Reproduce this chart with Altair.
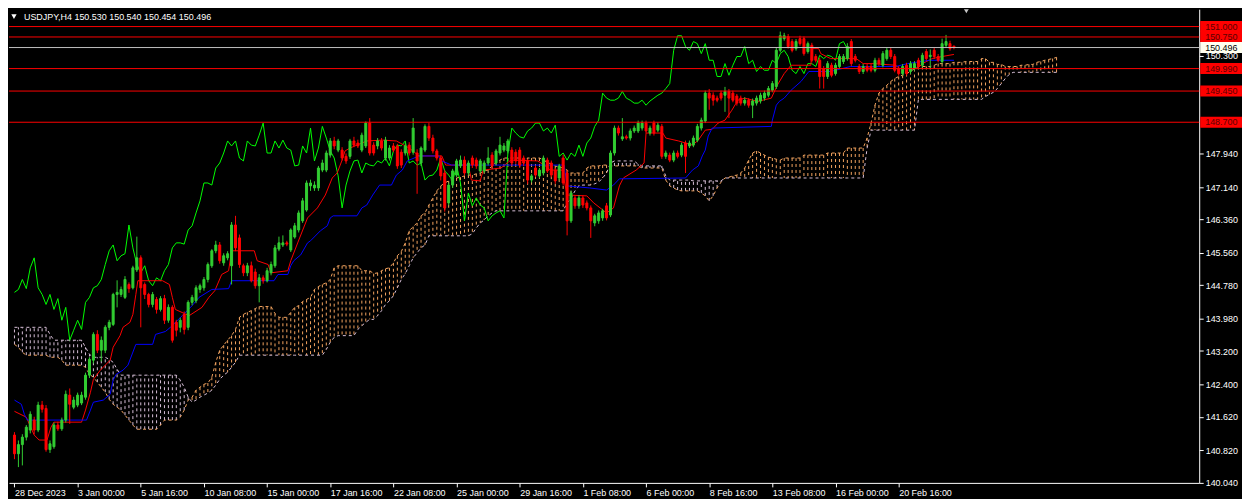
import json
import altair as alt
import numpy as np
import pandas as pd

# ---------------- data ----------------
OPEN = [
141.18, 140.73, 140.95, 141.13, 141.30, 141.54, 141.30, 141.90, 141.82, 140.83,
140.90, 141.42, 141.33, 141.54, 142.14, 141.85, 141.90, 141.95, 142.09, 142.62,
142.98, 143.60, 143.22, 143.22, 143.77, 143.84, 144.56, 144.56, 144.49, 144.80,
144.72, 145.15, 145.44, 144.80, 144.56, 144.32, 144.44, 144.20, 144.46, 143.94,
144.25, 143.89, 143.77, 144.08, 143.77, 144.37, 144.41, 144.68, 144.72, 144.92,
145.25, 145.61, 145.75, 145.32, 145.44, 145.25, 146.23, 145.92, 145.25, 145.08,
145.25, 145.10, 144.77, 144.96, 144.89, 145.08, 145.25, 145.65, 145.75, 145.80,
145.63, 145.94, 146.11, 146.33, 146.59, 147.17, 147.12, 147.12, 147.55, 147.55,
147.91, 148.25, 148.03, 148.03, 147.88, 147.88, 148.25, 148.20, 148.03, 148.13,
148.68, 148.15, 148.13, 148.25, 147.84, 147.84, 148.13, 148.13, 147.98, 147.96,
148.15, 147.98, 147.96, 147.72, 148.03, 148.60, 148.32, 148.01, 147.84, 147.48,
146.76, 147.19, 147.43, 147.65, 147.79, 147.48, 147.84, 147.79, 147.53, 147.53,
147.72, 147.91, 147.72, 147.96, 148.03, 148.01, 148.03, 147.98, 148.03, 147.84,
147.77, 147.31, 147.60, 147.41, 147.48, 147.79, 147.72, 147.55, 147.36, 147.84,
147.48, 146.33, 146.88, 146.69, 146.88, 146.76, 146.64, 146.28, 146.33, 146.40,
146.69, 146.47, 147.96, 148.56, 148.30, 148.35, 148.32, 148.49, 148.49, 148.56,
148.68, 148.44, 148.68, 148.51, 148.60, 147.88, 147.91, 147.79, 147.96, 147.91,
148.20, 148.13, 148.15, 148.27, 148.56, 148.73, 149.40, 149.35, 149.28, 149.40,
149.35, 149.44, 149.40, 149.33, 149.28, 149.16, 149.23, 149.11, 149.16, 149.21,
149.28, 149.35, 149.47, 149.56, 150.43, 150.71, 150.76, 150.64, 150.47, 150.71,
150.71, 150.40, 150.55, 150.28, 150.19, 149.99, 149.80, 150.07, 149.87, 150.04,
150.16, 150.23, 150.64, 150.28, 150.04, 149.92, 150.04, 150.04, 149.95, 150.19,
150.07, 150.23, 150.43, 150.28, 149.99, 149.87, 150.07, 149.92, 149.99, 150.19,
150.07, 150.40, 150.28, 150.43, 150.28, 150.16, 150.55, 150.59, 150.530,
]
HIGH = [
141.25, 141.05, 141.20, 141.42, 141.75, 141.62, 141.98, 142.00, 141.90, 141.05,
141.48, 141.50, 141.60, 142.25, 142.30, 142.10, 142.20, 142.22, 142.68, 143.05,
143.65, 143.70, 143.55, 143.82, 143.95, 144.60, 144.90, 144.75, 145.00, 144.85,
145.25, 145.95, 145.50, 144.85, 144.60, 144.62, 144.50, 144.52, 144.55, 144.32,
144.30, 143.95, 144.00, 144.15, 144.42, 144.55, 144.78, 144.82, 144.98, 145.33,
145.65, 145.85, 145.82, 145.55, 145.60, 146.30, 146.45, 146.00, 145.30, 145.32,
145.35, 145.18, 145.05, 145.02, 145.20, 145.35, 145.75, 145.95, 145.98, 145.85,
146.15, 146.28, 146.58, 146.88, 147.30, 147.32, 147.28, 147.65, 147.80, 148.02,
148.32, 148.35, 148.30, 148.10, 147.95, 148.30, 148.35, 148.28, 148.45, 148.72,
148.80, 148.22, 148.32, 148.32, 148.35, 148.15, 148.20, 148.18, 148.05, 148.20,
148.22, 148.80, 148.05, 148.12, 148.65, 148.68, 148.40, 148.06, 147.90, 147.55,
147.25, 147.58, 147.82, 147.90, 147.88, 147.78, 147.90, 147.85, 147.82, 147.78,
148.10, 147.98, 148.06, 148.35, 148.20, 148.30, 148.10, 148.05, 148.10, 147.90,
147.82, 147.46, 147.66, 147.60, 147.90, 147.85, 147.78, 147.60, 147.70, 147.92,
147.55, 147.06, 146.95, 146.95, 146.94, 146.82, 146.70, 146.50, 146.58, 146.62,
146.76, 148.02, 148.62, 148.62, 148.80, 148.40, 148.55, 148.62, 148.74, 148.74,
148.74, 148.62, 148.74, 148.70, 148.66, 148.02, 147.97, 148.02, 148.02, 148.21,
148.26, 148.26, 148.38, 148.66, 148.81, 149.46, 149.50, 149.42, 149.34, 149.46,
149.55, 149.50, 149.46, 149.38, 149.34, 149.30, 149.28, 149.27, 149.34, 149.41,
149.46, 149.57, 149.69, 150.50, 150.88, 150.85, 150.82, 150.70, 150.70, 150.78,
150.76, 150.64, 150.61, 150.34, 150.25, 150.05, 150.17, 150.13, 150.13, 150.34,
150.34, 150.60, 150.70, 150.34, 150.10, 150.10, 150.10, 150.10, 150.25, 150.25,
150.41, 150.49, 150.49, 150.34, 150.05, 150.10, 150.13, 150.17, 150.17, 150.25,
150.37, 150.46, 150.45, 150.49, 150.34, 150.71, 150.80, 150.66, 150.540,
]
LOW = [
140.60, 140.41, 140.45, 141.05, 141.22, 141.20, 141.25, 141.72, 140.78, 140.75,
140.85, 141.28, 141.28, 141.48, 141.45, 141.80, 141.85, 141.90, 142.03, 142.55,
142.90, 143.15, 142.95, 143.15, 143.70, 143.80, 144.25, 144.50, 144.45, 144.60,
144.68, 145.10, 143.77, 144.45, 144.25, 144.25, 144.10, 144.15, 143.85, 143.88,
143.40, 143.55, 143.65, 143.60, 143.70, 144.30, 144.35, 144.60, 144.65, 144.85,
145.20, 145.55, 145.30, 145.25, 145.38, 144.80, 145.60, 145.20, 145.00, 145.00,
144.85, 144.70, 144.37, 144.82, 144.85, 145.02, 145.20, 145.60, 145.70, 145.72,
145.58, 145.90, 146.05, 146.28, 146.55, 147.05, 147.05, 147.05, 147.50, 147.50,
147.85, 148.05, 147.98, 147.78, 147.70, 147.82, 148.10, 148.08, 147.98, 148.08,
147.90, 147.90, 148.05, 148.02, 147.78, 147.78, 147.98, 147.58, 147.60, 147.90,
147.90, 147.92, 146.98, 147.65, 147.98, 148.25, 147.95, 147.78, 147.30, 146.55,
146.70, 147.12, 147.38, 147.60, 147.42, 147.42, 147.60, 147.58, 147.48, 147.48,
147.66, 147.60, 147.66, 147.90, 147.98, 147.95, 147.66, 147.70, 147.60, 147.65,
147.22, 147.25, 147.38, 147.36, 147.42, 147.48, 147.38, 147.22, 147.30, 147.18,
145.98, 146.28, 146.62, 146.62, 146.64, 146.58, 145.92, 146.20, 146.26, 146.33,
146.34, 146.42, 147.90, 148.38, 148.25, 148.28, 148.26, 148.44, 148.44, 148.50,
148.44, 148.38, 148.38, 148.46, 147.82, 147.82, 147.74, 147.74, 147.83, 147.86,
147.48, 148.08, 148.10, 148.22, 148.50, 148.68, 149.00, 149.10, 149.18, 149.22,
148.95, 148.80, 149.18, 149.10, 149.10, 149.10, 149.05, 148.80, 149.10, 149.15,
149.22, 149.30, 149.42, 149.50, 150.38, 150.66, 150.47, 150.38, 150.42, 150.54,
150.30, 150.35, 150.14, 150.14, 149.51, 149.51, 149.74, 149.78, 149.82, 149.98,
150.10, 150.18, 150.05, 150.14, 149.86, 149.86, 149.90, 149.90, 149.90, 150.05,
150.02, 150.18, 150.22, 149.90, 149.82, 149.82, 149.82, 149.86, 149.94, 149.98,
150.02, 150.18, 149.98, 150.22, 150.14, 150.11, 150.50, 150.42, 150.454,
]
CLOSE = [
140.73, 140.95, 141.13, 141.37, 141.68, 141.30, 141.90, 141.80, 140.83, 140.97,
141.42, 141.33, 141.54, 142.16, 141.92, 142.02, 142.14, 142.14, 142.62, 143.00,
143.60, 143.22, 143.46, 143.77, 143.89, 144.56, 144.61, 144.68, 144.92, 144.70,
145.20, 145.44, 144.72, 144.56, 144.32, 144.56, 144.20, 144.46, 143.94, 144.25,
143.46, 143.70, 143.94, 143.72, 144.37, 144.49, 144.72, 144.77, 144.92, 145.28,
145.61, 145.75, 145.37, 145.49, 145.54, 146.23, 145.68, 145.28, 145.08, 145.25,
144.89, 144.77, 144.96, 144.89, 145.13, 145.28, 145.68, 145.80, 145.80, 145.77,
146.11, 146.21, 146.52, 146.81, 147.24, 147.24, 147.19, 147.60, 147.72, 147.96,
148.25, 148.13, 148.25, 147.84, 147.77, 148.25, 148.15, 148.13, 148.39, 148.68,
147.96, 147.96, 148.25, 148.08, 148.27, 148.08, 148.03, 147.65, 147.67, 148.13,
147.96, 148.56, 147.77, 148.08, 148.60, 148.32, 148.01, 147.84, 147.41, 146.64,
147.19, 147.53, 147.77, 147.79, 147.48, 147.72, 147.67, 147.65, 147.77, 147.72,
147.84, 147.65, 148.01, 148.15, 148.13, 148.25, 147.72, 147.77, 147.67, 147.72,
147.31, 147.41, 147.43, 147.55, 147.84, 147.53, 147.43, 147.29, 147.65, 147.24,
146.33, 147.00, 146.69, 146.88, 146.71, 146.64, 146.33, 146.45, 146.52, 146.57,
146.40, 147.96, 148.56, 148.44, 148.35, 148.32, 148.49, 148.56, 148.68, 148.68,
148.49, 148.56, 148.44, 148.63, 147.88, 147.96, 147.79, 147.96, 147.88, 148.15,
147.88, 148.20, 148.32, 148.60, 148.75, 149.40, 149.28, 149.23, 149.23, 149.28,
149.44, 149.28, 149.23, 149.16, 149.16, 149.23, 149.11, 149.21, 149.28, 149.35,
149.40, 149.51, 149.63, 150.43, 150.78, 150.78, 150.52, 150.43, 150.64, 150.59,
150.35, 150.59, 150.19, 150.19, 149.80, 149.80, 150.11, 149.83, 150.07, 150.28,
150.28, 150.52, 150.11, 150.19, 149.92, 150.04, 149.95, 149.95, 150.19, 150.11,
150.35, 150.43, 150.28, 149.95, 149.87, 150.04, 149.87, 150.11, 150.11, 150.04,
150.31, 150.23, 150.31, 150.28, 150.19, 150.59, 150.64, 150.47, 150.496,
]

# Ichimoku cloud, per bar (value, number of consecutive bars)
SPAN_A_RUNS = [
(143.36,1),(143.29,1),(143.17,1),(143.10,6),(143.05,3),(142.98,1),(142.86,5),(142.81,1),
(142.64,1),(142.57,1),(142.45,1),(142.33,1),(142.21,1),(142.04,1),(141.92,1),(141.85,1),
(141.78,1),(141.66,1),(141.54,1),(141.42,1),(141.32,6),(141.42,1),(141.54,4),(141.61,1),
(141.78,1),(142.02,1),
(142.09,1),(142.26,1),(142.33,1),(142.40,1),(142.43,1),(142.57,1),(142.93,1),(143.22,1),
(143.34,1),(143.46,1),(143.57,1),(143.72,1),
(144.01,1),(144.08,1),(144.13,1),(144.17,1),(144.22,1),(144.27,4),(144.10,1),(144.01,3),
(144.13,1),(144.25,1),(144.29,1),(144.39,1),(144.44,1),(144.49,1),(144.68,1),(144.75,1),
(144.80,1),(144.84,1),(144.92,1),(145.20,1),(145.25,6),(145.13,3),
(145.06,1),(145.08,1),(145.13,1),(145.18,1),(145.20,1),(145.32,1),(145.49,1),(145.59,1),
(145.80,1),(146.09,1),(146.19,1),(146.28,1),(146.45,1),(146.52,1),(146.71,1),(146.88,1),
(147.05,1),(147.17,1),(147.24,1),(147.29,1),(147.34,1),(147.36,1),(147.38,1),(147.41,1),
(147.43,2),(147.46,1),(147.48,1),(147.53,1),(147.55,1),(147.65,1),(147.74,1),(147.79,1),
(147.84,5),(147.77,1),(147.84,4),
(147.79,1),(147.74,1),(147.69,1),(147.65,1),(147.62,1),(147.60,1),(147.55,1),
(147.48,4),(147.60,1),(147.65,3),(147.67,2),(147.65,8),(147.60,6),
(147.31,1),(147.17,1),(147.12,1),(147.07,1),(147.05,5),
(147.00,1),(146.93,1),(146.81,1),(146.93,1),(147.12,1),(147.26,1),(147.36,1),(147.38,1),
(147.41,1),(147.43,1),(147.48,1),(147.60,1),(147.79,1),(147.96,1),(148.01,1),(147.96,1),
(147.91,1),(147.86,1),(147.84,1),(147.81,1),(147.79,1),
(147.84,5),(147.91,6),(147.96,5),(148.08,5),
(148.32,1),(148.68,1),(149.11,1),(149.40,1),(149.51,1),(149.59,1),(149.68,1),(149.75,1),
(149.80,1),(149.83,1),(149.87,1),(149.92,1),(149.99,1),
(150.04,4),(150.07,1),(150.11,4),(150.14,3),(150.16,4),(150.23,2),(150.14,2),(150.09,2),
(150.04,4),(150.07,2),(150.09,2),
(150.14,1),(150.16,1),(150.19,1),(150.21,1),(150.23,1),(150.26,1),
]
SPAN_B_RUNS = [
(143.77,9),(143.60,1),(143.46,8),(143.29,1),(143.12,1),(143.05,4),(143.00,1),(142.93,1),
(142.76,1),(142.62,15),(142.50,1),(142.33,1),(142.09,1),
(141.97,1),(142.02,1),(142.09,1),(142.14,1),(142.19,1),(142.26,1),(142.38,1),(142.52,1),
(142.62,1),(142.69,1),(142.81,1),(142.93,1),
(143.10,22),(143.24,1),(143.41,1),(143.53,1),(143.57,5),(143.72,1),(143.81,1),(143.89,1),
(143.96,2),
(144.05,1),(144.17,1),(144.32,1),(144.41,1),(144.53,1),(144.72,1),(144.92,1),(145.06,1),
(145.25,1),(145.44,1),(145.56,1),(145.68,1),(145.75,1),
(145.97,11),(146.02,1),(146.16,1),(146.28,1),(146.35,1),(146.45,1),(146.52,1),
(146.57,18),(146.76,1),(146.88,1),(147.05,1),(147.17,1),(147.19,3),
(147.22,1),(147.26,1),(147.36,1),(147.48,1),(147.72,1),
(147.77,6),(147.69,1),(147.65,6),(147.41,1),(147.31,6),(147.29,8),
(147.36,36),(148.08,1),(148.51,12),(149.25,17),
(149.32,1),(149.37,1),(149.42,1),(149.51,1),(149.63,1),(149.75,1),(149.85,1),
(149.90,12),
]

TENKAN_BAR = [0, 3, 5, 6.25, 8.25, 9.25, 10, 17, 18, 19.25, 20, 21.75, 24.25, 25, 26.75, 27.5,
29.25, 30, 30.75, 31.25, 37.5, 39.25, 40, 40.75, 44.25, 47.5, 49.25, 50.75, 52.5, 54.25, 55,
60.75, 61.5, 64.25, 65, 69.25, 70, 71.75, 74.25, 76.75, 78.75, 80.5, 81.75, 83, 83.75, 85,
89.25, 93.25, 96.75, 100, 102.5, 108.25, 109.25, 115, 115.75, 118, 118.75, 123.25, 125.75,
132.5, 134.25, 135.75, 138.75, 140, 145, 146.75, 150, 151.75, 153.25, 154.25, 157.5, 159.5,
160, 164.25, 165, 168.25, 171.75, 173.25, 175, 176.75, 178.25, 180, 181.75, 183.25, 185,
188.25, 191.75, 193.25, 195, 196.75, 201.75, 202, 203.75, 204.25, 206.75, 213.25, 215, 217.5,
223.25, 224.25, 228.75, 230, 232.5, 235, 238]
TENKAN = [141.75, 141.61, 141.18, 141.06, 141.06, 141.37, 141.49, 141.49, 141.78, 142.21,
142.52, 142.74, 142.98, 143.29, 143.57, 143.77, 143.89, 144.08, 144.56, 144.89, 144.89,
144.80, 144.49, 144.20, 144.05, 144.25, 144.49, 144.65, 145.04, 145.13, 145.61, 145.61,
145.37, 145.28, 145.08, 145.13, 145.37, 145.80, 146.40, 146.64, 146.95, 147.36, 147.48,
147.79, 148.01, 148.08, 148.25, 148.27, 148.25, 148.08, 147.89, 147.89, 147.67, 147.67,
147.31, 147.29, 147.55, 147.60, 147.79, 147.77, 147.67, 147.55, 147.55, 146.95, 146.93,
146.76, 146.52, 146.64, 147.17, 147.36, 147.55, 147.72, 148.44, 148.44, 148.32, 148.25,
148.15, 148.27, 148.51, 148.53, 148.68, 148.75, 148.99, 149.23, 149.28, 149.20, 149.28,
149.59, 149.87, 150.07, 150.07, 150.47, 150.47, 150.35, 150.23, 150.23, 150.11, 150.11,
150.07, 149.99, 149.99, 150.11, 150.23, 150.28, 150.33]

KIJUN_BAR = [0, 1.75, 2.5, 3.25, 18.25, 19.25, 20, 22.5, 24.25, 25, 25.75, 27.5, 28.75, 30.75,
35, 35.75, 38.25, 39.5, 42.5, 45, 46.75, 50, 54.25, 55, 65.75, 66.75, 69.25, 70, 70.75, 72.5,
74.25, 75, 77.5, 79.25, 80, 80.75, 86.75, 88, 89.25, 90.75, 92.5, 95.5, 96.75, 98.25, 99.5,
102.5, 107.5, 108.25, 110.75, 139.25, 140, 145.75, 150, 151.75, 153.25, 170, 171.75, 173.25,
174.25, 175, 175.75, 176.75, 191.75, 192, 193, 193.75, 195, 196.75, 199.25, 201.25, 206.75,
211.75, 223.25, 226.25, 231.75, 238]
KIJUN = [142.02, 141.92, 141.68, 141.54, 141.54, 141.78, 141.97, 142.02, 142.16, 142.50,
142.64, 142.74, 142.86, 143.36, 143.36, 143.60, 143.67, 143.77, 144.05, 144.29, 144.49,
144.68, 144.70, 144.89, 144.89, 145.04, 145.04, 145.25, 145.37, 145.51, 145.80, 145.85,
146.09, 146.21, 146.40, 146.45, 146.45, 146.64, 146.71, 146.95, 147.19, 147.19, 147.43,
147.55, 147.77, 147.89, 147.89, 147.77, 147.67, 147.67, 147.17, 147.12, 147.07, 147.19,
147.34, 147.36, 147.55, 147.65, 147.89, 148.03, 148.37, 148.56, 148.60, 148.75, 149.11,
149.20, 149.28, 149.47, 149.68, 149.92, 149.92, 150.04, 150.04, 150.11, 150.19, 150.19]

CHIKOU_SHIFT = 26
LEVELS = [151.000, 150.750, 149.990, 149.450, 148.700]
BID = 150.496
Y_TICKS = [140.04, 140.82, 141.62, 142.40, 143.20, 143.98, 144.78, 145.56, 146.36,
           147.14, 147.94, 150.30]
X_TICK_BARS = [0, 16, 32, 48, 64, 80, 96, 112, 128, 144, 160, 176, 192, 208, 224]
X_TICK_LABELS = ["28 Dec 2023", "3 Jan 00:00", "5 Jan 16:00", "10 Jan 08:00", "15 Jan 00:00",
                 "17 Jan 16:00", "22 Jan 08:00", "25 Jan 00:00", "29 Jan 16:00", "1 Feb 08:00",
                 "6 Feb 00:00", "8 Feb 16:00", "13 Feb 08:00", "16 Feb 00:00", "20 Feb 16:00"]
TITLE = "USDJPY,H4  150.530 150.540 150.454 150.496"

# ---------------- tables ----------------
n = len(CLOSE)
bars = pd.DataFrame({"bar": np.arange(n), "open": OPEN, "high": HIGH, "low": LOW, "close": CLOSE})
bars["kind"] = np.where(bars["close"] >= bars["open"], "up", "down")

span_a = [v for v, k in SPAN_A_RUNS for _ in range(k)]
span_b = [v for v, k in SPAN_B_RUNS for _ in range(k)]
m = min(len(span_a), len(span_b))
cloud = pd.DataFrame({"bar": np.arange(m), "a": span_a[:m], "b": span_b[:m]})
cloud["kind"] = np.where(cloud["a"] >= cloud["b"], "bull", "bear")

chikou = pd.DataFrame({"bar": np.arange(n - CHIKOU_SHIFT), "price": CLOSE[CHIKOU_SHIFT:]})
tenkan = pd.DataFrame({"bar": TENKAN_BAR, "price": TENKAN})
kijun = pd.DataFrame({"bar": KIJUN_BAR, "price": KIJUN})

Y_LO, Y_HI = 140.03, 151.418
PLOT_H = 476
PX = PLOT_H / (Y_HI - Y_LO)  # pixels per yen (style)
HALF = 5.5 / PX
levels = pd.DataFrame({"price": LEVELS, "label": [f"{v:.3f}" for v in LEVELS]})
levels["lo"] = levels["price"] - HALF
levels["hi"] = levels["price"] + HALF
bid = pd.DataFrame({"price": [BID], "label": [f"{BID:.3f}"]})
bid["lo"] = bid["price"] - HALF
bid["hi"] = bid["price"] + HALF

# ---------------- scales & axes ----------------
FONT = "Liberation Sans"
xs = alt.Scale(domain=[-0.125, 298.875], nice=False, zero=False)
ys = alt.Scale(domain=[Y_LO, Y_HI], nice=False, zero=False)
xaxis = alt.Axis(values=X_TICK_BARS, labelExpr=json.dumps(X_TICK_LABELS) + "[round(datum.value / 16)]",
                 labelAlign="left", labelOffset=0, labelPadding=2, tickSize=4, tickColor="#ffffff",
                 domainColor="#ffffff", labelColor="#ffffff", labelFont=FONT, labelFontSize=9,
                 title=None, grid=False, labelFlush=False, labelOverlap=False)
yaxis = alt.Axis(orient="right", values=Y_TICKS, format=".3f", labelPadding=2, tickSize=4,
                 tickColor="#ffffff", domainColor="#ffffff", labelColor="#ffffff", labelFont=FONT,
                 labelFontSize=9, title=None, grid=False, labelOverlap=False, labelFlush=False)
CS = alt.Scale(domain=["up", "down", "bull", "bear"],
               range=["#32cd32", "#ff0000", "#f4a460", "#d8bfd8"])

X = alt.X("bar:Q", scale=xs, axis=xaxis)


def Y(field):
    return alt.Y(f"{field}:Q", scale=ys, axis=yaxis)


hatch = alt.Chart(cloud).mark_rule(strokeWidth=1, strokeDash=[3, 3], clip=True).encode(
    x=X, y=Y("a"), y2="b", color=alt.Color("kind:N", scale=CS, legend=None))
line_a = alt.Chart(cloud).mark_line(strokeWidth=1, strokeDash=[3, 3], color="#f4a460", clip=True).encode(
    x=X, y=Y("a"))
line_b = alt.Chart(cloud).mark_line(strokeWidth=1, strokeDash=[3, 3], color="#d8bfd8", clip=True).encode(
    x=X, y=Y("b"))
chik = alt.Chart(chikou).mark_line(strokeWidth=1, color="#00ff00", clip=True).encode(x=X, y=Y("price"))
tk = alt.Chart(tenkan).mark_line(strokeWidth=1, color="#ff0000", clip=True).encode(x=X, y=Y("price"))
kj = alt.Chart(kijun).mark_line(strokeWidth=1, color="#0000ff", clip=True).encode(x=X, y=Y("price"))

wick = alt.Chart(bars).mark_rule(strokeWidth=1, clip=True).encode(
    x=X, y=Y("low"), y2="high", color=alt.Color("kind:N", scale=CS, legend=None))
body = alt.Chart(bars).mark_bar(width=2, strokeWidth=1, clip=True).encode(
    x=X, y=Y("open"), y2="close",
    color=alt.Color("kind:N", scale=CS, legend=None),
    stroke=alt.Stroke("kind:N", scale=CS, legend=None))

lvl = alt.Chart(levels).mark_rule(color="#ff0000", strokeWidth=1).encode(y=Y("price"))
bidline = alt.Chart(bid).mark_rule(color="#c0c0c0", strokeWidth=1).encode(y=Y("price"))
lvl_box = alt.Chart(levels).mark_rect(color="#ff0000").encode(
    x=alt.value(1197), x2=alt.value(1239), y=Y("lo"), y2="hi")
lvl_txt = alt.Chart(levels).mark_text(align="left", baseline="middle", font=FONT, fontSize=9,
                                      color="#5a0000").encode(
    x=alt.value(1202), y=Y("price"), text="label:N")
bid_box = alt.Chart(bid).mark_rect(color="#fffff0").encode(
    x=alt.value(1197), x2=alt.value(1239), y=Y("lo"), y2="hi")
bid_txt = alt.Chart(bid).mark_text(align="left", baseline="middle", font=FONT, fontSize=9,
                                   color="#000000").encode(
    x=alt.value(1202), y=Y("price"), text="label:N")

title = alt.Chart(bid).mark_text(align="left", baseline="middle", font=FONT, fontSize=9,
                                 color="#ffffff", text=TITLE).encode(x=alt.value(15), y=alt.value(8))
tri = alt.Chart(bid).mark_point(shape="triangle-down", filled=True, size=28, color="#ffffff",
                                opacity=1).encode(x=alt.value(5), y=alt.value(7.5))
shift_tri = alt.Chart(bid).mark_point(shape="triangle-down", filled=True, size=90, color="#c8c8c8",
                                      opacity=1, clip=True).encode(x=alt.value(962), y=alt.value(0))

chart = alt.layer(
    hatch, line_a, line_b, chik, tk, kj, wick, body, lvl, bidline,
    lvl_box, lvl_txt, bid_box, bid_txt, title, tri, shift_tri,
).properties(width=1196, height=PLOT_H, padding=0).configure(background="#000000").configure_view(
    stroke=None)

chart.save("out.html", embed_options={"renderer": "svg", "actions": False})
